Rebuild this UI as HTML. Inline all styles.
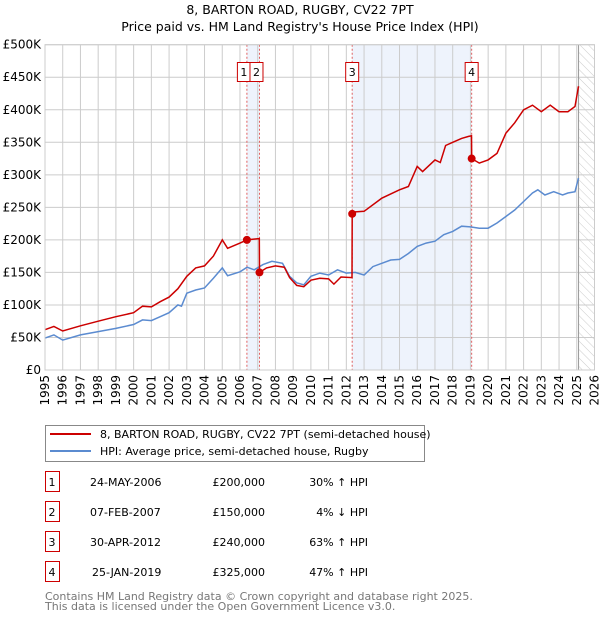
<!DOCTYPE html>
<html><head><meta charset="utf-8"><style>
body{margin:0;background:#fff;}
svg text{font-family:"DejaVu Sans","Liberation Sans",sans-serif;}
</style></head><body>
<svg id="c" width="600" height="620" xmlns="http://www.w3.org/2000/svg">
<defs><pattern id="hatch" width="6" height="6" patternUnits="userSpaceOnUse" patternTransform="rotate(-45)"><line x1="0" y1="0" x2="0" y2="6" stroke="#ccc" stroke-width="1"/></pattern></defs>
<text x="300" y="14" text-anchor="middle" font-size="12.5">8, BARTON ROAD, RUGBY, CV22 7PT</text>
<text x="300" y="31" text-anchor="middle" font-size="12.5">Price paid vs. HM Land Registry's House Price Index (HPI)</text>
<g id="plot"></g>
<g>
<rect x="45.5" y="425.5" width="379" height="36" fill="#fff" stroke="#888"/>
<line x1="50" y1="434" x2="91" y2="434" stroke="#cc0000" stroke-width="2"/>
<text x="100" y="438" font-size="11">8, BARTON ROAD, RUGBY, CV22 7PT (semi-detached house)</text>
<line x1="50" y1="451" x2="91" y2="451" stroke="#5b8bd0" stroke-width="2"/>
<text x="100" y="455" font-size="11">HPI: Average price, semi-detached house, Rugby</text>
</g>
<g id="table" font-size="11"></g>
<text x="45" y="600" font-size="11" fill="#777">Contains HM Land Registry data © Crown copyright and database right 2025.</text>
<text x="45" y="610" font-size="11" fill="#777">This data is licensed under the Open Government Licence v3.0.</text>
</svg>
<script>
const hpiYears=[1995,1995.5,1996,1997,1998,1999,2000,2000.5,2001,2001.5,2002,2002.5,2002.7,2003,2003.5,2004,2004.5,2005,2005.3,2006,2006.4,2006.8,2007.3,2007.8,2008.4,2008.8,2009.2,2009.6,2010,2010.5,2011,2011.5,2012,2012.5,2013,2013.5,2014,2014.5,2015,2015.5,2016,2016.5,2017,2017.5,2018,2018.5,2019,2019.5,2020,2020.5,2021,2021.5,2022,2022.5,2022.8,2023.2,2023.7,2024.2,2024.5,2024.9,2025.1];
const hpiValues=[49,54,46,54,59,64,70,77,76,82,88,100,98,118,123,126,141,157,145,151,158,154,162,167,164,144,134,131,144,149,146,154,149,150,146,159,164,169,170,179,190,195,198,208,213,221,220,218,218,226,236,246,259,272,277,269,274,269,272,274,295];
const priceYears=[1995,1995.5,1996,1997,1998,1999,2000,2000.5,2001,2001.5,2002,2002.5,2003,2003.5,2004,2004.5,2005,2005.3,2006,2006.39,2007.09,2007.1,2007.5,2008,2008.5,2008.8,2009.2,2009.6,2010,2010.5,2011,2011.3,2011.7,2012.32,2012.33,2012.5,2013,2014,2015,2015.5,2016,2016.3,2017,2017.3,2017.6,2018,2018.5,2018.9,2019.06,2019.07,2019.5,2020,2020.5,2021,2021.5,2022,2022.5,2023,2023.5,2024,2024.5,2024.9,2025.1];
const priceValues=[62,67,60,68,75,82,88,98,97,105,112,125,144,157,160,175,200,187,195,200,202,150,157,160,158,142,130,128,138,141,140,132,143,142,240,243,244,264,277,282,313,305,323,319,345,350,356,359,360,325,318,323,333,364,380,400,407,397,407,397,397,405,436];
const saleYears=[2006.39,2007.1,2012.33,2019.07];
const salePrices=[200,150,240,325];
const saleLabels=["1","2","3","4"];
const saleDates=["24-MAY-2006","07-FEB-2007","30-APR-2012","25-JAN-2019"];
const salePriceText=["£200,000","£150,000","£240,000","£325,000"];
const saleHpiText=["30% ↑ HPI","4% ↓ HPI","63% ↑ HPI","47% ↑ HPI"];
const yTicks=[0,50,100,150,200,250,300,350,400,450,500];
const yTickLabels=["£0","£50K","£100K","£150K","£200K","£250K","£300K","£350K","£400K","£450K","£500K"];
const xTicks=[1995,1996,1997,1998,1999,2000,2001,2002,2003,2004,2005,2006,2007,2008,2009,2010,2011,2012,2013,2014,2015,2016,2017,2018,2019,2020,2021,2022,2023,2024,2025,2026];

const NS="http://www.w3.org/2000/svg";
const X0=45,X1=594.5,Y0=370,Y1=44.7;
const xs=y=>X0+(y-1995)/(2026-1995)*(X1-X0);
const ys=v=>Y0-v/500*(Y0-Y1);
const plot=document.getElementById('plot');
function mk(tag,attrs,parent){const e=document.createElementNS(NS,tag);for(const k in attrs)e.setAttribute(k,attrs[k]);(parent||plot).appendChild(e);return e;}
// shaded bands
const b1=mk('rect',{x:xs(saleYears[0]),y:Y1,width:xs(saleYears[1])-xs(saleYears[0]),height:Y0-Y1,fill:'#eef3fc'});


const b2=mk('rect',{x:xs(saleYears[2]),y:Y1,width:xs(saleYears[3])-xs(saleYears[2]),height:Y0-Y1,fill:'#eef3fc'});


// hatch future
const hz=mk('rect',{x:xs(2025.1),y:Y1,width:X1-xs(2025.1),height:Y0-Y1,fill:'url(#hatch)'});


// grid
yTicks.forEach((v,i)=>{
 const l=mk('line',{x1:X0,x2:X1,y1:ys(v),y2:ys(v),stroke:'#ccc'});
 
 
 const t=mk('text',{x:X0-4,y:ys(v)+4,'text-anchor':'end','font-size':'12'});t.textContent=yTickLabels[i];
 
 
});
xTicks.forEach(yr=>{
 const l=mk('line',{x1:xs(yr),x2:xs(yr),y1:Y1,y2:Y0,stroke:'#ccc'});
 
 
 const t=mk('text',{x:0,y:0,'text-anchor':'end','font-size':'12',transform:`translate(${xs(yr)+4},${Y0+5}) rotate(-90)`});t.textContent=yr;
 
 
});
const nl=mk('line',{x1:xs(2025.1),x2:xs(2025.1),y1:Y1,y2:Y0,stroke:'#999'});


// sale dashed lines
saleYears.forEach(yr=>{
 const l=mk('line',{x1:xs(yr),x2:xs(yr),y1:Y1,y2:Y0,stroke:'#e06060','stroke-dasharray':'2,2'});
 
 
});
function path(xa,va){return xa.map((x,i)=>(i?'L':'M')+xs(x).toFixed(1)+','+ys(va[i]).toFixed(1)).join('');}
const hp=mk('path',{d:path(hpiYears,hpiValues),fill:'none',stroke:'#5b8bd0','stroke-width':1.5});


const pp=mk('path',{d:path(priceYears,priceValues),fill:'none',stroke:'#cc0000','stroke-width':1.5});


saleYears.forEach((yr,i)=>{
 const c=mk('circle',{cx:xs(yr),cy:ys(salePrices[i]),r:4,fill:'#cc0000'});
 
 
 const bx=i===0?xs(yr)-10:(i===1?xs(yr)-10:xs(yr)-7);
 const r=mk('rect',{x:i===0?xs(yr)-9.5:(i===1?xs(yr)-9.5:xs(yr)-6.5),y:62.5,width:13,height:19,fill:'#fff',stroke:'#cc0000'});
 
 
 const t=mk('text',{x:(i<2?xs(yr)-3:xs(yr)),y:76,'text-anchor':'middle','font-size':'11'});t.textContent=saleLabels[i];
 
 
});
const ax=mk('rect',{x:X0,y:Y1,width:X1-X0,height:Y0-Y1,fill:'none',stroke:'#ccc'});


// table
const tb=document.getElementById('table');
saleLabels.forEach((lab,i)=>{
 const cy=483+i*30;
 const r=mk('rect',{x:45.5,y:cy-11.5,width:14,height:20,fill:'#fff',stroke:'#cc0000'},tb);
 
 
 const t0=mk('text',{x:52,y:cy+3,'text-anchor':'middle'},tb);t0.textContent=lab;
 
 
 const t1=mk('text',{x:i===3?92:90,y:cy+3},tb);t1.textContent=saleDates[i];
 
 
 const t2=mk('text',{x:265,y:cy+3,'text-anchor':'end'},tb);t2.textContent=salePriceText[i];
 
 
 const t3=mk('text',{x:368,y:cy+3,'text-anchor':'end'},tb);t3.textContent=saleHpiText[i];
 
 
});
</script>
</body></html>
